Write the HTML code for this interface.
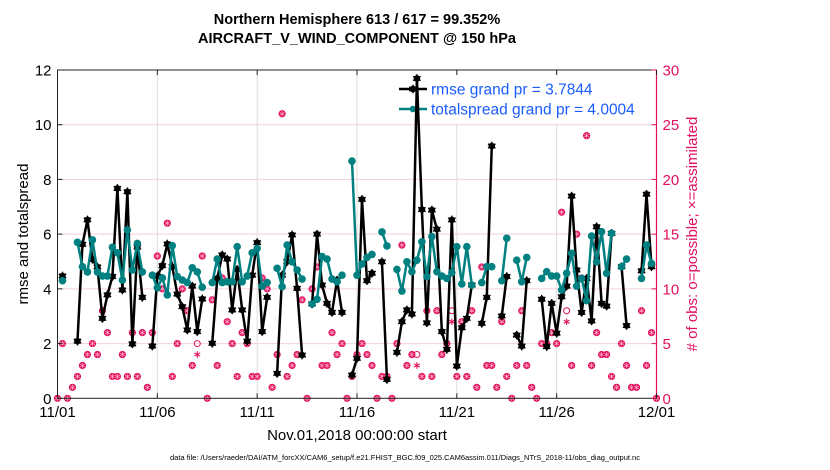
<!DOCTYPE html>
<html><head><meta charset="utf-8"><style>
html,body{margin:0;padding:0;background:#fff;}
svg{display:block;font-family:"Liberation Sans",sans-serif;}
</style></head><body>
<svg id="chart" width="830" height="470" viewBox="0 0 830 470" xmlns="http://www.w3.org/2000/svg">
<rect width="830" height="470" fill="#fff"/>
<text x="357" y="24" font-size="14.5" font-weight="bold" text-anchor="middle">Northern Hemisphere 613 / 617 = 99.352%</text>
<text x="357" y="43" font-size="14.5" font-weight="bold" text-anchor="middle">AIRCRAFT_V_WIND_COMPONENT @ 150 hPa</text>
<g id="grid"></g>
<g id="legend"></g>
<g id="marks"></g>
<g id="axes"></g>
<text transform="translate(28,234) rotate(-90)" font-size="15" text-anchor="middle">rmse and totalspread</text>
<text transform="translate(697,234) rotate(-90)" font-size="15" fill="#e0115f" text-anchor="middle"># of obs: o=possible; ×=assimilated</text>
<text x="357" y="440" font-size="15" text-anchor="middle">Nov.01,2018 00:00:00 start</text>
<text x="405" y="460" font-size="7.5" text-anchor="middle">data file: /Users/raeder/DAI/ATM_forcXX/CAM6_setup/f.e21.FHIST_BGC.f09_025.CAM6assim.011/Diags_NTrS_2018-11/obs_diag_output.nc</text>
</svg>
<script>
const rmse=[null,4.47,null,null,2.09,5.63,6.52,5.08,4.8,2.92,3.78,4.45,7.67,3.96,7.55,1.99,5.52,3.69,null,1.91,4.47,4.85,5.64,4.81,3.81,3.35,2.5,4.1,2.44,3.63,null,2.01,4.38,5.24,5.09,3.23,4.71,3.23,2.09,4.5,5.69,2.44,3.69,null,0.91,4.5,5.0,5.97,4.02,1.58,null,3.45,6.0,4.14,3.47,3.14,4.32,3.14,null,0.85,1.46,7.27,4.30,4.57,null,4.99,0.69,null,1.68,2.8,3.23,3.08,11.69,6.9,2.76,6.88,6.18,2.44,1.79,6.52,1.18,2.58,2.92,4.14,null,2.74,3.69,9.22,null,3.01,4.45,null,2.31,1.91,4.30,null,null,3.62,1.89,3.47,2.38,3.71,4.1,7.39,4.69,3.14,4.38,2.83,6.27,3.47,3.37,6.03,null,4.81,2.66,null,null,4.66,7.46,4.81];
const spread=[null,4.30,null,null,5.70,4.81,4.62,5.79,4.62,4.47,4.47,5.52,5.32,4.32,6.15,4.69,5.66,4.62,null,4.5,4.04,4.40,3.78,5.58,4.45,4.32,4.23,4.77,4.62,4.06,null,4.23,5.09,4.23,4.26,4.26,5.54,4.26,4.47,5.32,5.48,4.1,4.23,null,4.75,4.08,5.6,4.99,4.69,4.36,null,3.45,3.62,5.18,5.09,4.36,4.26,4.5,null,8.67,4.5,4.91,5.15,5.26,null,6.08,5.57,null,4.71,3.92,4.99,4.63,5.05,5.72,4.45,5.91,4.63,4.47,4.38,4.59,5.54,4.18,5.54,4.14,null,4.23,4.81,4.81,null,4.3,5.85,null,5.05,4.26,5.15,null,null,4.38,4.63,4.47,4.47,3.96,4.57,5.30,4.1,4.38,3.57,5.93,4.99,6.09,4.57,6.03,null,4.81,5.09,null,null,4.38,5.6,4.93];
const nAssim=[0,5,0,1,2,3,4,5,4,8,6,2,2,4,2,6,2,6,1,6,13,10,16,2,5,10,8,3,4,13,0,9,3,11,7,5,2,6,5,2,2,11,10,1,4,26,2,3,4,9,0,10,12,3,3,6,4,5,0,2,4,5,4,3,0,2,2,0,5,14,3,4,3,2,8,2,8,4,5,7,2,7,2,8,1,12,3,3,1,7,2,0,3,8,3,1,0,5,5,6,5,17,7,3,15,11,24,3,6,4,4,2,1,5,3,1,1,8,3,6,0];
const nPoss=[0,5,0,1,2,3,4,5,4,8,6,2,2,4,2,6,2,6,1,6,13,10,16,2,5,10,8,3,5,13,0,9,3,11,7,5,2,6,5,2,2,11,10,1,4,26,2,3,4,9,0,10,12,3,3,6,4,5,0,2,4,5,4,3,0,2,2,0,5,14,3,4,4,2,8,2,8,4,5,8,2,7,2,8,1,12,3,3,1,7,2,0,3,8,3,1,0,5,5,6,5,17,8,3,15,11,24,3,6,4,4,2,1,5,3,1,1,8,3,6,0];
const yTicks=[0,2,4,6,8,10,12];
const y2Ticks=[0,5,10,15,20,25,30];
const xTickDays=[0,5,10,15,20,25,30];
const xTickLabels=["11/01","11/06","11/11","11/16","11/21","11/26","12/01"];
const legendLabels=["rmse grand pr = 3.7844","totalspread grand pr = 4.0004"];

const NS="http://www.w3.org/2000/svg";
const X0=57.5,X1=656.5,Y0=398.3,Y1=70;
const xs=i=>X0+(X1-X0)*(i/4)/30;
const xd=d=>X0+(X1-X0)*d/30;
const ys=v=>Y0-(Y0-Y1)*v/12;
const yc=c=>Y0-(Y0-Y1)*c/30;
function mk(tag,at,parent){const e=document.createElementNS(NS,tag);for(const k in at)e.setAttribute(k,at[k]);parent.appendChild(e);return e;}
const grid=document.getElementById('grid'),marks=document.getElementById('marks'),axes=document.getElementById('axes'),leg=document.getElementById('legend');

yTicks.forEach(v=>{if(v>0&&v<12){const l=mk('line',{x1:X0,x2:X1,y1:ys(v),y2:ys(v),stroke:'#f5cfdc','stroke-width':1},grid);

}});
xTickDays.forEach(d=>{if(d>0&&d<30){const l=mk('line',{x1:xd(d),x2:xd(d),y1:Y1,y2:Y0,stroke:'#dddddd','stroke-width':1},grid);

}});

function star(x,y,r,col,w,parent){for(let a=0;a<3;a++){const t=a*Math.PI/3+Math.PI/2;mk('line',{x1:x-r*Math.cos(t),y1:y-r*Math.sin(t),x2:x+r*Math.cos(t),y2:y+r*Math.sin(t),stroke:col,'stroke-width':w},parent);}}

// legend (under marks)
mk('rect',{x:392,y:74,width:262,height:50,fill:'#fff'},leg);
[['#000',true],['#008080',false]].forEach((s,k)=>{const y=89+k*20;mk('line',{x1:399,x2:427,y1:y,y2:y,stroke:s[0],'stroke-width':2.6},leg);mk('circle',{cx:413,cy:y,r:3.3,fill:s[0]},leg);if(s[1])star(413,y,4.3,s[0],1.4,leg);
const t=mk('text',{x:431,y:y+5.5,'font-size':15.5,fill:'#1a5cff'},leg);t.textContent=legendLabels[k];

});

// obs counts
nPoss.forEach((p,i)=>{const a=nAssim[i];const g=mk('g',{},marks);


if(p===a){mk('circle',{cx:xs(i),cy:yc(p),r:3.6,fill:'#e0115f'},g);star(xs(i),yc(p),2.7,'#ffb0c8',0.7,g);}
else{mk('circle',{cx:xs(i),cy:yc(p),r:3,fill:'none',stroke:'#e0115f','stroke-width':1},g);star(xs(i),yc(a),3.3,'#e0115f',1.1,g);}});

function series(arr,col,name,isStar){let segs=[],cur=[];arr.forEach((v,i)=>{if(v===null){if(cur.length)segs.push(cur);cur=[];}else cur.push([xs(i),ys(v)]);});if(cur.length)segs.push(cur);
const g=mk('g',{},marks);


segs.forEach(s=>{if(s.length>1)mk('polyline',{points:s.map(p=>p.join(',')).join(' '),fill:'none',stroke:col,'stroke-width':2.5,'stroke-linejoin':'round'},g);});
arr.forEach((v,i)=>{if(v!==null){mk('circle',{cx:xs(i),cy:ys(v),r:isStar?3.3:3.8,fill:col},g);if(isStar)star(xs(i),ys(v),4.3,col,1.4,g);}});}
series(rmse,'#000','rmse-series',true);
series(spread,'#008080','totalspread-series',false);

// axes box
mk('rect',{x:X0,y:Y1,width:X1-X0,height:Y0-Y1,fill:'none',stroke:'#222','stroke-width':1},axes);
mk('line',{x1:X1,x2:X1,y1:Y1,y2:Y0,stroke:'#e0115f','stroke-width':1.2},axes);
yTicks.forEach(v=>{mk('line',{x1:X0,x2:X0+5,y1:ys(v),y2:ys(v),stroke:'#222'},axes);const t=mk('text',{x:X0-6,y:ys(v)+5.5,'font-size':15,'text-anchor':'end'},axes);t.textContent=v;

});
y2Ticks.forEach(v=>{mk('line',{x1:X1-5,x2:X1,y1:yc(v),y2:yc(v),stroke:'#e0115f'},axes);const t=mk('text',{x:X1+6,y:yc(v)+5.5,'font-size':15,fill:'#e0115f'},axes);t.textContent=v;

});
xTickDays.forEach((d,k)=>{mk('line',{x1:xd(d),x2:xd(d),y1:Y0,y2:Y0-5,stroke:'#222'},axes);mk('line',{x1:xd(d),x2:xd(d),y1:Y1,y2:Y1+5,stroke:'#222'},axes);const t=mk('text',{x:xd(d),y:417,'font-size':15,'text-anchor':'middle'},axes);t.textContent=xTickLabels[k];

});
</script>
</body></html>
